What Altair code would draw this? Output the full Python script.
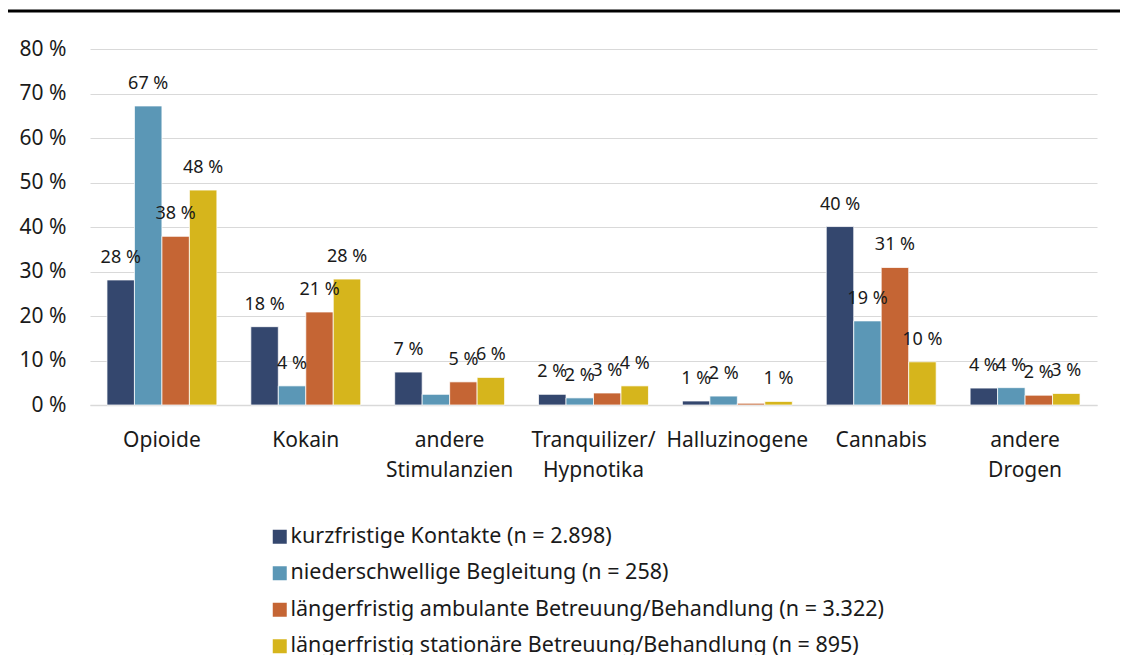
import altair as alt
import pandas as pd

categories = ["Opioide", "Kokain", "andere\nStimulanzien", "Tranquilizer/\nHypnotika",
              "Halluzinogene", "Cannabis", "andere\nDrogen"]
series = [
    "kurzfristige Kontakte (n = 2.898)",
    "niederschwellige Begleitung (n = 258)",
    "längerfristig ambulante Betreuung/Behandlung (n = 3.322)",
    "längerfristig stationäre Betreuung/Behandlung (n = 895)",
]
kurzfristig = [28.1, 17.6, 7.4, 2.4, 0.9, 40.1, 3.8]
niederschwellig = [67.2, 4.3, 2.4, 1.6, 2.0, 18.9, 3.9]
ambulant = [37.9, 20.9, 5.2, 2.7, 0.4, 30.9, 2.2]
stationaer = [48.3, 28.3, 6.2, 4.3, 0.8, 9.7, 2.6]
colors = ["#34476E", "#5B97B6", "#C56534", "#D6B51C"]
hidden_labels = [("andere\nStimulanzien", 1), ("Halluzinogene", 2)]

values_by_series = [kurzfristig, niederschwellig, ambulant, stationaer]
rows = []
for si, (s, vals) in enumerate(zip(series, values_by_series)):
    for c, v in zip(categories, vals):
        lab = "" if (c, si) in hidden_labels else f"{round(v):d} %"
        rows.append({"cat": c, "series": s, "value": v, "label": lab})
df = pd.DataFrame(rows)

FONT = "Noto Sans"
TXT = "#1a1a1a"

x_enc = alt.X(
    "cat:N", sort=categories,
    scale=alt.Scale(paddingInner=0.236, paddingOuter=0.118),
    axis=alt.Axis(title=None, labelAngle=0, labelExpr="split(datum.label, '\\n')",
                  labelFontSize=21, labelFont=FONT, labelColor=TXT, labelPadding=24,
                  labelLineHeight=30, ticks=False, tickSize=0, domainColor="#d9d9d9",
                  domainWidth=1.5, labelLimit=0),
)
xoff_enc = alt.XOffset("series:N", sort=series)
y_enc = alt.Y(
    "value:Q", scale=alt.Scale(domain=[0, 80]),
    axis=alt.Axis(title=None, values=list(range(0, 81, 10)), labelExpr="datum.value + ' %'",
                  labelFontSize=21, labelFont=FONT, labelColor=TXT, labelPadding=24,
                  ticks=False, tickSize=0, domain=False, gridColor="#d9d9d9", gridWidth=1),
)

base = alt.Chart(df)
bars = base.mark_bar(stroke="white", strokeWidth=0.75).encode(
    x=x_enc, xOffset=xoff_enc, y=y_enc,
    color=alt.Color("series:N", sort=series,
                    scale=alt.Scale(domain=series, range=colors),
                    legend=alt.Legend(title=None, orient="none", legendX=179, legendY=477,
                                      direction="vertical", symbolType="square",
                                      symbolSize=196, symbolStrokeWidth=0, labelFontSize=21.5,
                                      labelFont=FONT, labelColor=TXT, rowPadding=13.5,
                                      labelLimit=0, labelOffset=0)),
)
labels = base.transform_filter("datum.label != ''").mark_text(
    dy=-22, fontSize=18, font=FONT, color=TXT, baseline="middle"
).encode(x=x_enc, xOffset=xoff_enc, y=y_enc, text="label:N")

top_line = alt.Chart(pd.DataFrame({"a": [0]})).mark_rule(color="black", strokeWidth=3).encode(
    x=alt.value(-86), x2=alt.value(1040), y=alt.value(-38)
)

chart = alt.layer(bars, labels, top_line).properties(
    width=1007, height=356,
    padding={"left": 82, "top": 41, "right": 23, "bottom": 250},
    autosize=alt.AutoSizeParams(type="none"),
).configure_view(stroke=None)

chart.save("out.html", embed_options={"renderer": "svg", "actions": False})
